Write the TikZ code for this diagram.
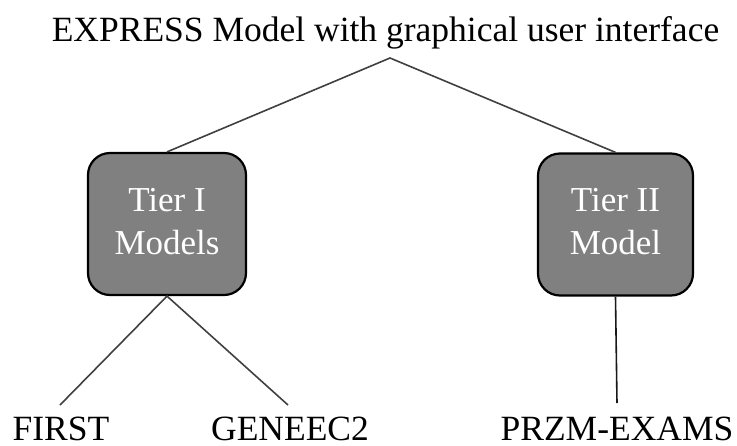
\documentclass[tikz,border=0pt]{standalone}
\usepackage{fontspec}
\setmainfont{Liberation Serif}
\begin{document}
\begin{tikzpicture}[x=1pt,y=-1pt,
  tierbox/.style={draw=black, line width=2.2pt, fill=black!50, rounded corners=22pt,
    minimum width=156pt, minimum height=142pt, text=white, align=center,
    font=\fontsize{35}{43}\selectfont, inner sep=0pt},
  lbl/.style={font=\fontsize{35.5}{40}\selectfont, inner sep=0pt, anchor=base},
  conn/.style={draw=black!75, line width=1.6pt}]
\useasboundingbox (0,0) rectangle (737,445);
\node[lbl] (title) at (385.5,41) {EXPRESS Model with graphical user interface};
\coordinate (apex) at (390,58);
\node[tierbox, minimum width=158pt] (t1) at (167,224) {\raisebox{-2pt}{\begin{tabular}{@{}c@{}}Tier I\\Models\end{tabular}}};
\node[tierbox, minimum width=155pt] (t2) at (615.5,224.5) {\raisebox{-2pt}{\begin{tabular}{@{}c@{}}Tier II\\Model\end{tabular}}};
\node[lbl] (first) at (61,440) {FIRST};
\node[lbl] (gen) at (290,440) {GENEEC2};
\node[lbl] (przm) at (617,440) {PRZM-EXAMS};
\coordinate (fe) at (60,405);
\coordinate (ge) at (288,405);
\coordinate (pe) at (617,403);
\draw[conn] (t1.north) -- (apex) -- (t2.north);
\draw[conn] (fe) -- (t1.south) -- (ge);
\draw[conn, draw=black!90] (t2.south) -- (pe);
\end{tikzpicture}
\end{document}
